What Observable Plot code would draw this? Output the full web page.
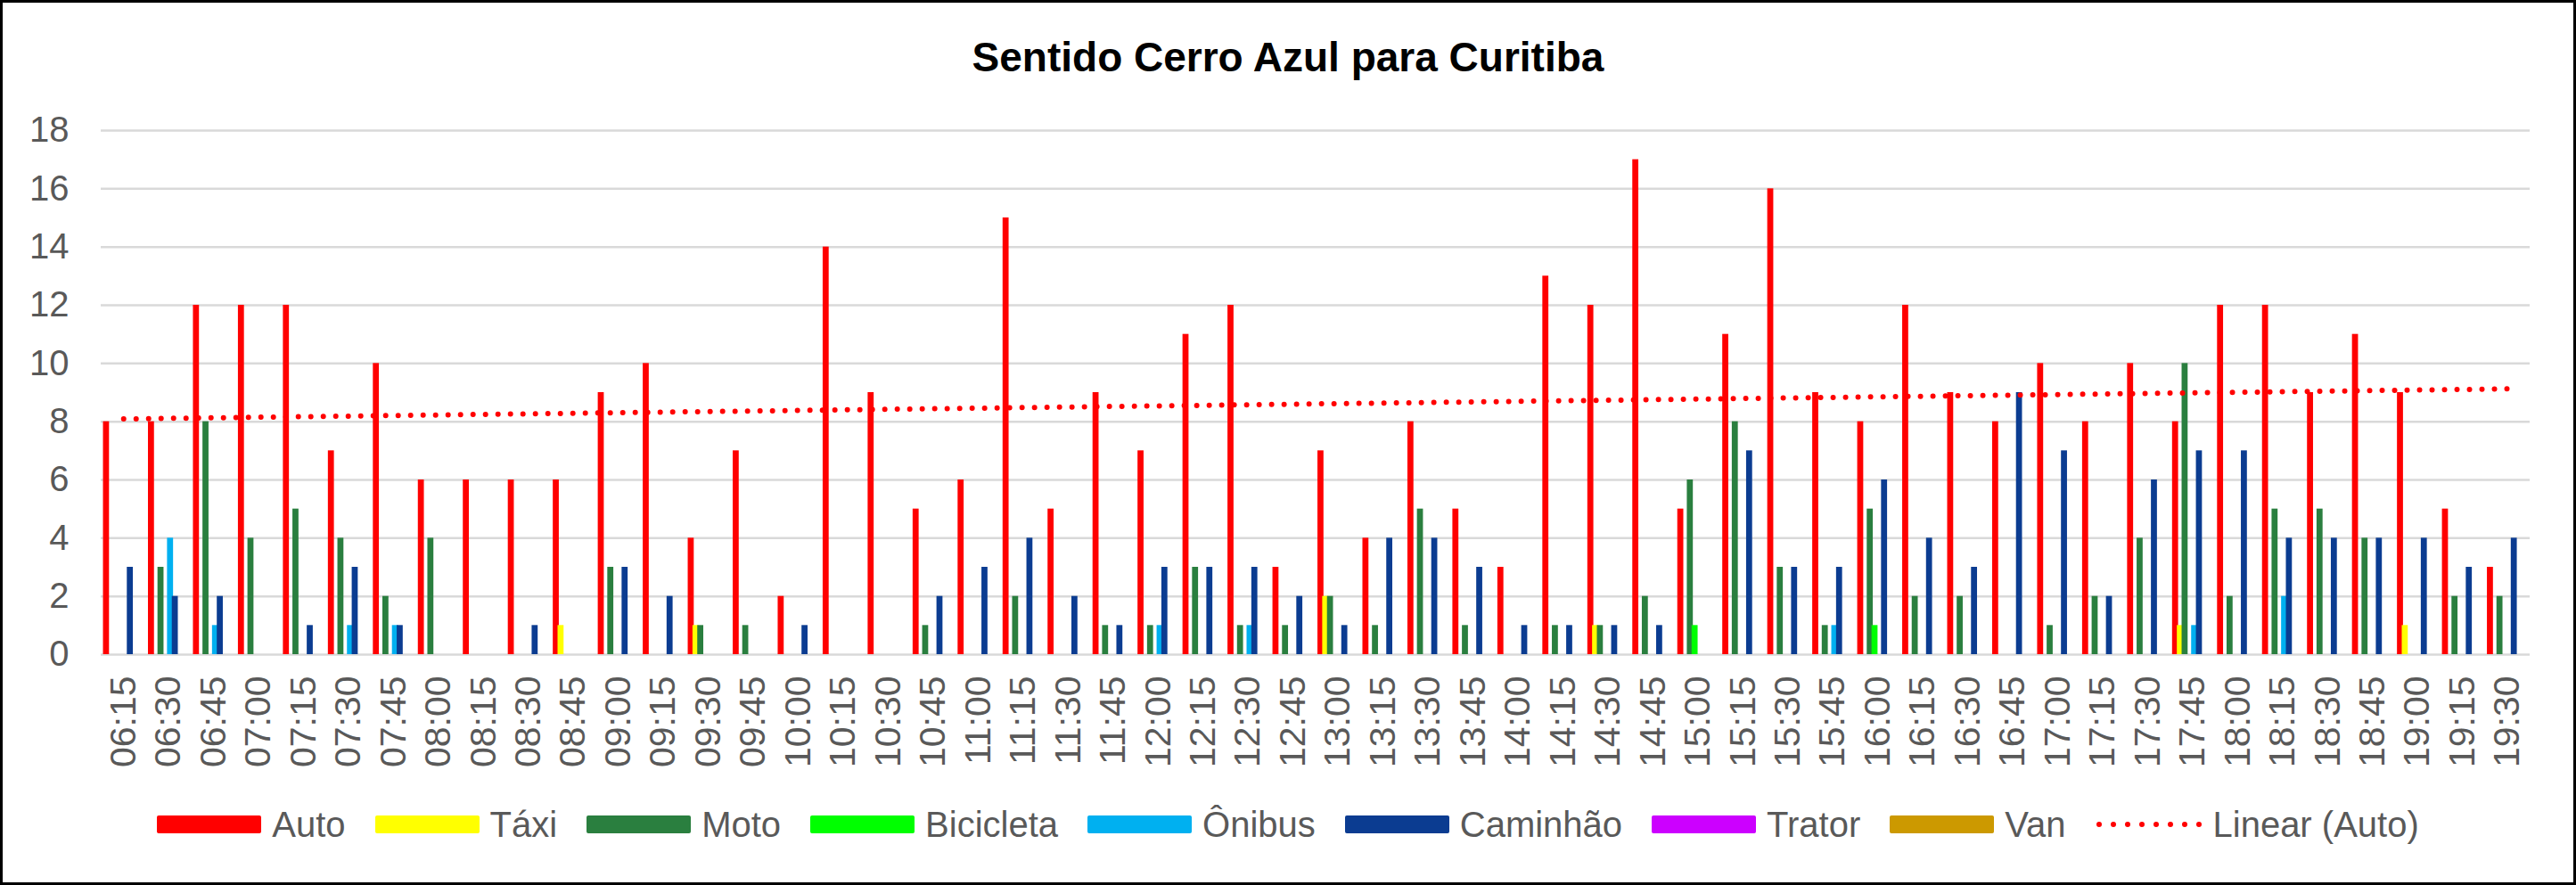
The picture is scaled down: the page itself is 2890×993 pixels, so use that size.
<!DOCTYPE html>
<html>
<head>
<meta charset="utf-8">
<script src="https://cdn.jsdelivr.net/npm/d3@7"></script>
<script src="https://cdn.jsdelivr.net/npm/@observablehq/plot@0.6"></script>
<style>
  body { margin: 0; background: #fff; font-family: "Liberation Sans", Arial, sans-serif; }
  #frame { width: 2890px; height: 993px; box-sizing: border-box; border: 3px solid #000; background: #fff; overflow: hidden; }
  #title { height: 100px; line-height: 100px; padding-top: 11px; text-align: center; font-weight: bold; font-size: 46px; color: #000; }
  #chart svg { display: block; overflow: visible; }
  #legend { height: 118px; display: flex; justify-content: center; align-items: center; font-size: 40px; color: #595959; }
  .item { display: flex; align-items: center; margin: 0 16.5px; }
  .sw { width: 117px; height: 20px; margin-right: 12px; border-radius: 2px; }
</style>
</head>
<body>
<div id="frame">
  <div id="title">Sentido Cerro Azul para Curitiba</div>
  <div id="chart"></div>
  <div id="legend"></div>
</div>
<script>
const times = ["06:15","06:30","06:45","07:00","07:15","07:30","07:45","08:00","08:15","08:30",
  "08:45","09:00","09:15","09:30","09:45","10:00","10:15","10:30","10:45","11:00",
  "11:15","11:30","11:45","12:00","12:15","12:30","12:45","13:00","13:15","13:30",
  "13:45","14:00","14:15","14:30","14:45","15:00","15:15","15:30","15:45","16:00",
  "16:15","16:30","16:45","17:00","17:15","17:30","17:45","18:00","18:15","18:30",
  "18:45","19:00","19:15","19:30"];

const auto      = [8,8,12,12,12,7,10,6,6,6, 6,9,10,4,7,2,14,9,5,6, 15,5,9,7,11,12,3,7,4,8, 5,3,13,12,17,5,11,16,9,8, 12,9,8,10,8,10,8,12,12,9, 11,9,5,3];
const taxi      = [0,0,0,0,0,0,0,0,0,0, 1,0,0,1,0,0,0,0,0,0, 0,0,0,0,0,0,0,2,0,0, 0,0,0,1,0,0,0,0,0,0, 0,0,0,0,0,0,1,0,0,0, 0,1,0,0];
const moto      = [0,3,8,4,5,4,2,4,0,0, 0,3,0,1,1,0,0,0,1,0, 2,0,1,1,3,1,1,2,1,5, 1,0,1,1,2,6,8,3,1,5, 2,2,0,1,2,4,10,2,5,5, 4,0,2,2];
const bicicleta = [0,0,0,0,0,0,0,0,0,0, 0,0,0,0,0,0,0,0,0,0, 0,0,0,0,0,0,0,0,0,0, 0,0,0,0,0,1,0,0,0,1, 0,0,0,0,0,0,0,0,0,0, 0,0,0,0];
const onibus    = [0,4,1,0,0,1,1,0,0,0, 0,0,0,0,0,0,0,0,0,0, 0,0,0,1,0,1,0,0,0,0, 0,0,0,0,0,0,0,0,1,0, 0,0,0,0,0,0,1,0,2,0, 0,0,0,0];
const caminhao  = [3,2,2,0,1,3,1,0,0,1, 0,3,2,0,0,1,0,0,2,3, 4,2,1,3,3,3,2,1,4,4, 3,1,1,1,1,0,7,3,3,6, 4,3,9,7,2,6,7,7,4,4, 4,4,3,4];
const trator    = new Array(times.length).fill(0);
const van       = new Array(times.length).fill(0);

const seriesNames  = ["Auto","Táxi","Moto","Bicicleta","Ônibus","Caminhão","Trator","Van"];
const seriesValues = [auto, taxi, moto, bicicleta, onibus, caminhao, trator, van];
const seriesColors = ["#ff0000","#ffff00","#2a7f3f","#00ff00","#00b0f0","#0b3c91","#cc00ff","#cc9900"];
const yTicks = [0,2,4,6,8,10,12,14,16,18];
const trendLabel = "Linear (Auto)";

// least-squares linear trend of Auto (as Excel's "Linear" trendline)
const n = auto.length;
const idx = d3.range(n);
const mx = d3.mean(idx), my = d3.mean(auto);
const slope = d3.sum(idx, i => (i - mx) * (auto[i] - my)) / d3.sum(idx, i => (i - mx) ** 2);
const icpt = my - slope * mx;
const trend = [{t: times[0], v: icpt}, {t: times[n - 1], v: icpt + slope * (n - 1)}];

const slot = 5.35;
const barMarks = seriesNames.map((name, k) =>
  Plot.barY(times.map((t, i) => ({t, v: seriesValues[k][i]})).filter(d => d.v > 0), {
    x: "t", y: "v", fill: seriesColors[k], dx: (k - 3.5) * slot - 0.6
  })
);

const chart = Plot.plot({
  width: 2884,
  height: 752,
  marginTop: 32,
  marginBottom: 132,
  marginLeft: 110,
  marginRight: 49,
  style: {fontFamily: "'Liberation Sans', Arial, sans-serif", fontSize: "40px", color: "#595959", background: "#fff", overflow: "visible"},
  x: {domain: times, paddingInner: 0.866, paddingOuter: 0.433, round: false, label: null},
  y: {domain: [0, 18], label: null},
  marks: [
    Plot.ruleY(yTicks, {stroke: "#d9d9d9", strokeWidth: 2.5}),
    ...barMarks,
    Plot.line(trend, {x: "t", y: "v", stroke: "#ff0000", strokeWidth: 6, strokeDasharray: "0 14", strokeLinecap: "round"}),
    Plot.axisY({ticks: yTicks, tickSize: 0, tickPadding: 36, label: null, fill: "#595959"}),
    Plot.axisX({tickSize: 0, tickPadding: 24, tickRotate: -90, label: null, fill: "#595959", fontSize: 41})
  ]
});
document.getElementById("chart").appendChild(chart);

const legend = document.getElementById("legend");
seriesNames.forEach((name, k) => {
  const it = document.createElement("div");
  it.className = "item";
  it.innerHTML = `<div class="sw" style="background:${seriesColors[k]}"></div><span>${name}</span>`;
  legend.appendChild(it);
});
const tl = document.createElement("div");
tl.className = "item";
tl.innerHTML = `<svg width="120" height="20" style="margin-right:12px"><line x1="4" x2="118" y1="10" y2="10" stroke="#ff0000" stroke-width="6" stroke-dasharray="0 16" stroke-linecap="round"/></svg><span>${trendLabel}</span>`;
legend.appendChild(tl);
</script>
</body>
</html>
